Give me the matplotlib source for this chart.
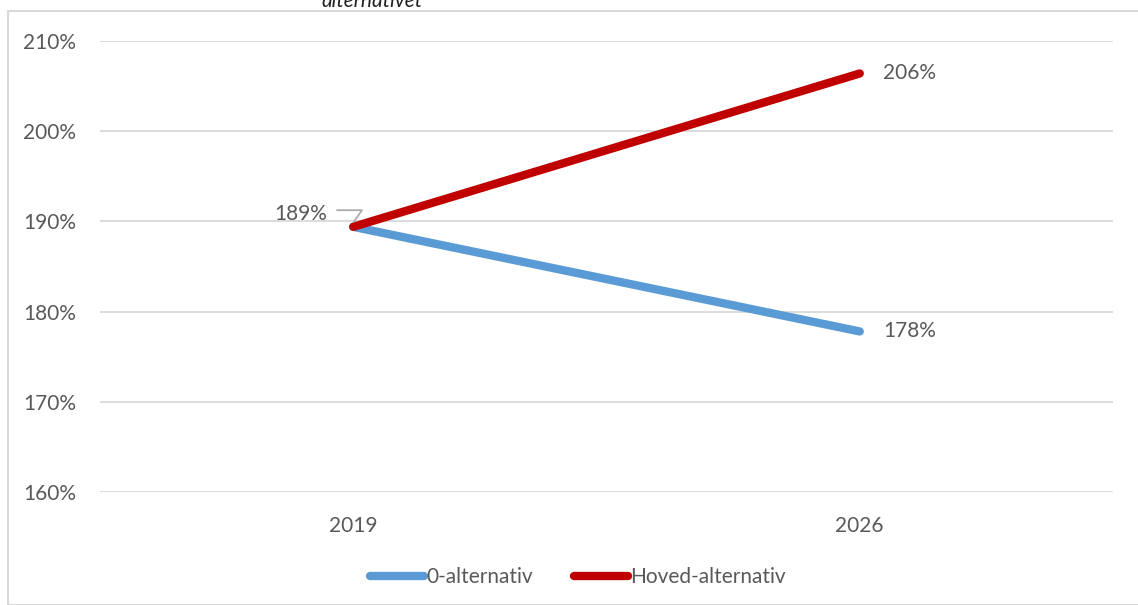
import matplotlib
matplotlib.use("Agg")
import matplotlib.pyplot as plt
from matplotlib.patches import Rectangle
from matplotlib.ticker import FuncFormatter

years = ["2019", "2026"]
zero_alt = [1.894, 1.778]
main_alt = [1.894, 2.064]
series_names = ["0-alternativ", "Hoved-alternativ"]
y_ticks = [1.6, 1.7, 1.8, 1.9, 2.0, 2.1]

BLUE = "#5b9bd5"
RED = "#c00000"
TEXT = "#595959"
GRID = "#d9d9d9"
FS = 15

plt.rcParams["font.family"] = ["Lato", "DejaVu Sans"]

fig = plt.figure(figsize=(11.38, 6.05), dpi=100)
W, H = 1138, 605

# chart frame
fig.patches.append(Rectangle((8 / W, 0), 1.2, 1 - 11 / H, transform=fig.transFigure,
                             fill=False, edgecolor=GRID, linewidth=1.5, zorder=0))
fig.text(372 / W, 1 - 1 / H, "alternativet", ha="center", va="center",
         fontsize=FS, style="italic", color="#222222")

ax = fig.add_axes([100 / W, 1 - 492 / H, (1113 - 100) / W, (492 - 41) / H])
x = [0, 1]
ax.set_xlim(-0.5, 1.5)
ax.set_ylim(1.6, 2.1)
ax.set_yticks(y_ticks)
ax.yaxis.set_major_formatter(FuncFormatter(lambda v, _: f"{v * 100:.0f}%"))
ax.set_xticks(x)
ax.set_xticklabels(years)
ax.grid(axis="y", color=GRID, linewidth=1.3)
ax.set_axisbelow(True)
for s in ax.spines.values():
    s.set_visible(False)
ax.tick_params(length=0, labelsize=FS, labelcolor=TEXT)
ax.tick_params(axis="y", pad=17)
ax.tick_params(axis="x", pad=17)

ax.plot(x, zero_alt, color=BLUE, linewidth=6, solid_capstyle="round", label=series_names[0])
ax.plot(x, main_alt, color=RED, linewidth=6, solid_capstyle="round", label=series_names[1])

# end labels
ax.annotate(f"{main_alt[1] * 100:.0f}%", (x[1], main_alt[1]), xytext=(17, 0),
            textcoords="offset points", va="center", ha="left", fontsize=FS, color=TEXT)
ax.annotate(f"{zero_alt[1] * 100:.0f}%", (x[1], zero_alt[1]), xytext=(17, 0),
            textcoords="offset points", va="center", ha="left", fontsize=FS, color=TEXT)
# start label with leader line
ax.annotate(f"{zero_alt[0] * 100:.0f}%", (x[0], zero_alt[0]), xytext=(-19, 9),
            textcoords="offset points", va="center", ha="right", fontsize=FS, color=TEXT)
ax.annotate("", (x[0] - 0.002, zero_alt[0] + 0.003), xytext=(-13, 10),
            textcoords="offset points",
            arrowprops=dict(arrowstyle="-", color="#a6a6a6", lw=1.2,
                            connectionstyle="angle,angleA=0,angleB=55,rad=0"))

leg = fig.legend(loc="center", bbox_to_anchor=(578 / W, 1 - 577 / H), ncol=2,
                 frameon=False, fontsize=FS, handlelength=2.6, handletextpad=0.1,
                 columnspacing=2.0)
for t in leg.get_texts():
    t.set_color(TEXT)

fig.savefig("out.png", dpi=100)
